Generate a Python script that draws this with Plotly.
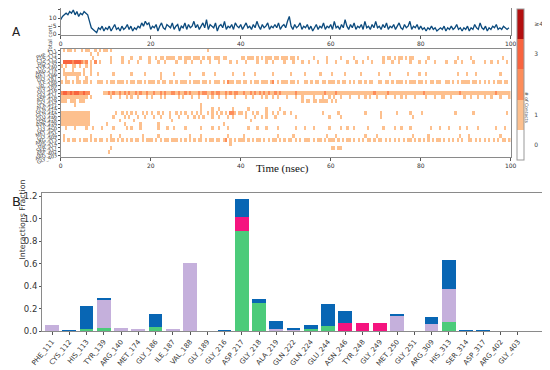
import plotly.graph_objects as go

# page body has an 8px margin; the figure is sized so reference pixel p lands at p
OFF = 8
W, H = 550 - OFF, 370 - OFF


def fx(p):
    return min(1.0, max(0.0, (p - OFF) / W))


def fy(p):
    return min(1.0, max(0.0, 1 - (p - OFF) / H))


# ---------------- data ----------------
residues = ["PHE_111", "CYS_112", "HIS_113", "TYR_139", "ARG_140", "MET_174", "GLY_186",
            "ILE_187", "VAL_188", "GLY_189", "GLY_216", "ASP_217", "GLY_218", "ALA_219",
            "GLN_222", "GLN_224", "GLU_244", "ASN_246", "TYR_248", "GLY_249", "MET_250",
            "GLY_251", "ARG_309", "HIS_313", "SER_314", "ASP_317", "ARG_402", "GLY_403"]

hbonds      = [0, 0, 0.02, 0.025, 0, 0, 0.035, 0, 0, 0, 0, 0.895, 0.247, 0,
               0, 0.015, 0.045, 0, 0, 0, 0, 0, 0, 0.078, 0, 0, 0, 0]
hydrophobic = [0.05, 0, 0, 0.25, 0.025, 0.015, 0, 0.015, 0.605, 0, 0, 0, 0, 0.02,
               0.005, 0, 0, 0, 0, 0, 0.145, 0, 0.065, 0.295, 0, 0, 0, 0]
ionic       = [0, 0, 0, 0, 0, 0, 0, 0, 0, 0, 0, 0.125, 0, 0,
               0, 0, 0, 0.068, 0.068, 0.068, 0, 0, 0, 0, 0, 0, 0, 0]
water_br    = [0, 0.005, 0.20, 0.02, 0, 0, 0.115, 0, 0, 0, 0.003, 0.153, 0.036, 0.065,
               0.02, 0.04, 0.20, 0.108, 0, 0, 0.006, 0, 0.057, 0.259, 0.005, 0.013, 0, 0]

time_step = 0.4
total_contacts = [
    9, 11, 12, 13, 12, 14, 13, 15, 12, 14, 11, 13, 12, 14, 13,
    12, 8, 4, 3, 2, 1, 4, 3, 5, 2,
    4, 3, 5, 2, 4, 6, 3, 4, 2, 5, 3, 4, 6, 3, 5, 2, 4, 3, 5, 4, 7, 5, 8, 6, 7,
    3, 5, 4, 6, 2, 5, 7, 4, 3, 6, 5, 4, 7, 3, 5, 6, 2, 5, 4, 7, 3, 6, 4, 5, 8,
    4, 6, 3, 5, 7, 4, 9, 3, 6, 5, 4, 7, 2, 5, 6, 4, 8, 3, 5, 4, 6, 3, 7, 5, 4,
    6, 3, 5, 7, 4, 5, 3, 6, 4, 8, 5, 3, 6, 4, 5, 7, 3, 5, 4, 6, 4, 7, 3, 5, 6,
    4, 8, 11, 5, 3, 6, 4, 5, 7, 3, 5, 4, 6, 3, 5, 2, 4, 6, 3, 5, 4, 7, 3, 5, 4,
    6, 3, 8, 4, 5, 3, 6, 4, 9, 5, 3, 6, 4, 7, 3, 5, 4, 6, 3, 8, 4, 5, 3, 6, 4,
    8, 4, 5, 3, 6, 4, 7, 3, 5, 4, 6, 3, 5, 7, 4, 3, 6, 4, 5, 8, 3, 5, 4, 6, 3,
    5, 3, 4, 2, 4, 3, 5, 3, 4, 2, 3, 4, 3, 5, 2, 4, 3, 5, 3, 4, 6, 3, 4, 2, 4,
    3, 5, 2, 4, 3, 6, 4, 3, 7, 4, 3, 5, 2, 4, 3, 5, 4, 6, 3, 4, 3, 5, 4, 3, 4,
]

# contact timeline: 0.5 ns bins, groups of 10 bins (5 ns); '.' = 0 contacts
bin_ns = 0.5
n_bins = 200
contact_rows = [
    ".1.11.1..1 .11..1.1.1 1.1....... .......... .......... .......... .....1....",  # PHE_111
    ".......... ...1..1...",  # CYS_112
    ".......... ....1..... ..1....1.. .1...1...1 ..1.11.111 1.11.111.1 11.1.11.11 1.11...... "
    "11.111.1.1 .111.11.11 1.11.1.... ..1.....1. ....1..... 1.....1... ...1.11.1. 11.1.11... "
    "...1...... ......1... ..1....... ......1...",  # HIS_113
    ".333323332 12.1.2.1.. ..1....1.. 1...1....1 ...1..1... .1...1..1. ..1...1... 1....1..1. "
    "..1....1.. .1..1....1 ...1...1.. 1...1...1. ..1....1.. .1..1...1. ...1...1.. 1....1...1 "
    "..1...1... .1...1..1. ...1....1. .1..1...1.",  # TYR_139
    "1.1..11.1. .1.1......",  # ARG_140
    ".1...1.... 1..1......",  # MET_174
    ".11111111. 1..1..1... ...1...... .1.....1.. ....1..... 1......1.. ...1....1. ......1... "
    ".1....1... ....1..... ..1.....1. .....1.... 1.....1... ...1...... .1....1... ....1....1 "
    "..1....... ......1... 1...1..... .....1....",  # GLY_186
    "..1....1.. .1........ .......... .......... ....1.....",  # ILE_187
    "1.11.1.11. 11.1..111. 1.11.111.1 .11.11.1.1 11.1.11.11 .1.111.1.1 11.11.1.11 1.1.211.11 "
    ".11.1.11.1 11.12.1.11 1.11.1..11 .1.11.11.1 11.1.11.1. 1.11.1.11. .11.11.1.1 11.1.111.1 "
    "1.1.11.11. .11.1.1.11 11.11.1.1. 1.1.11.11.",  # VAL_188
    "",  # GLY_189
    "",  # GLY_216
    "2332323322 322......1 1212112121 2112121121 1211212112 2121121211 1212211212 2112121221 "
    "1211212121 2121121211 1111211111 1111111211 1121111111 1111111112 1111121111 1111111111 "
    "1211111111 1111111211 1111111111 1112111111",  # ASP_217
    "1111111111 11.1...... ..1...1..1 .1..1...1. 1...1.1... ..1.1...1. .1...1.1.. 1..1...1.. "
    "..1..1...1 .1..1.1... 1...1..1.. ..1...1..1 .1..1...1. ..1..1.1.. 1...1...1. .1.1...1.. "
    "..1...1..1 1..1.....1 ..1..1..1. .1...1...1",  # GLY_218
    "111.111.11 1......... .......... .......... .......... .......... .......... .......... "
    ".......... .......... .......1.1 1.11.1111. 1.1.......",  # ALA_219
    "......1... .......... .......... .......... .......... .......... ..1.......",  # GLN_222
    ".......... .......... .......... .......... .......... .......... ..1....1.. 1.....1... "
    "...1...... .1.....1..",  # GLN_224
    "1111111111 111....... ....1..1.1 .1.1..1.1. 1..1.1..1. .1.1.1..1. 1.1..1.1.1 .1.1.221.1 "
    "1.1..1.1.. .1..1.1..1 ..1....... ......1... ...1...... .....1.... ..1......1 .....1.... "
    "1......... .....1.... ...1...... ........1.",  # GLU_244
    "1111111111 111....... ...1....1. 1...1..1.. .1..1...1. ..1...1..1 .1.1...1.. 1...1.1... "
    "..1...1..1 .1...1.... ....1..... .........1 ....1..... .......... ..1....... ......1...",  # ASN_246
    "1111111111 111....... ......1... ..1....... .........1 .......... .......... .......... "
    "....1.....",  # TYR_248
    "1111111111 111....... 1.......1. .....1.... ...1...... .......... .......... ..1.......",  # GLY_249
    "..1...1... .1..1...1. ...1.....1 .1...1.... ...1...1.. 1....1.... ..1....1.. 1...1..... "
    "...1...1.. .1....1... ....1...1. ..1......1 ....1..1.. 1.....1... ...1....1. .1...1.... "
    "....1...1. ..1....1.. 1....1.... ...1...1..",  # MET_250
    "",  # GLY_251
    ".1........ ...1...... ..1...1... ......1... ...1...... .......1.. ..1....... ....1..... "
    ".1........ ......1... ...1...... ........1. ..1....... .....1.... 1......... ......1... "
    "...1...... .......1.. .1........ .....1....",  # ARG_309
    ".1.1.11.1. 11.1.1.11. 1.11.1.1.1 .1.11.1.11 1.1.1.11.1 11.1.1.1.1 .11.1.11.1 1.12.1.1.1 "
    "11.1.1.11. 1.1.11.1.1 .11.1.1.11 1.1.11.1.1 11.1.1.11. 1.1.1.11.1 .11.1.1.1. 1.1.11.1.1 "
    ".1.1.1.11. 1.1.1.1.1. .11.1.1.1. 1.1.1.11.1",  # HIS_313
    ".......... .......... .......... .......... .......... .......... .......... .....1....",  # SER_314
    ".......... .......... ..1....... .......... .......... .......... .......... .......... "
    ".......... .......... .......... .......... 11.11.....",  # ASP_317
    ".......... .......... .1........",  # ARG_402
    "",  # GLY_403
]

contact_levels = ["0", "1", "2", "3", "\u22654"]
contact_colors = ["#ffffff", "#fdc08e", "#fd8d5a", "#f8643f", "#b30f0f"]


def decode(s):
    s = s.replace(" ", "").ljust(n_bins, ".")[:n_bins]
    return [0 if c == "." else int(c) for c in s]


z = [decode(r) for r in contact_rows]
bin_centers = [bin_ns * (i + 0.5) for i in range(n_bins)]
times = [i * time_step for i in range(len(total_contacts))]

# discrete colorscale
cs = []
n = len(contact_colors)
for i, c in enumerate(contact_colors):
    cs.append([i / n, c])
    cs.append([(i + 1) / n, c])

fig = go.Figure()

fig.add_trace(go.Scatter(x=times, y=total_contacts, mode="lines",
                         line=dict(color="#0b4a7d", width=1.3),
                         xaxis="x", yaxis="y", showlegend=False))

fig.add_trace(go.Heatmap(z=z, x=bin_centers, y=residues, colorscale=cs,
                         zmin=-0.5, zmax=4.5, xaxis="x2", yaxis="y2",
                         colorbar=dict(x=fx(516.5), xanchor="left", y=fy(84.5), yanchor="middle",
                                       len=151 / H, lenmode="fraction", thickness=7,
                                       xpad=0, ypad=0,
                                       outlinecolor="#999", outlinewidth=1,
                                       tickvals=[0, 1, 2, 3, 4],
                                       ticktext=["0", "1", "", "3", "\u22654"],
                                       ticks="outside", ticklen=9, tickcolor="rgba(0,0,0,0)",
                                       tickfont=dict(size=6, color="#444", family="DejaVu Sans"))))

colors = {"H-bonds": "#4ccb7a", "Hydrophobic": "#c5b0dc", "Ionic": "#f5147f", "Water bridges": "#0866b4"}
for name, vals in [("H-bonds", hbonds), ("Hydrophobic", hydrophobic),
                   ("Ionic", ionic), ("Water bridges", water_br)]:
    fig.add_trace(go.Bar(x=residues, y=vals, name=name, marker=dict(color=colors[name], line=dict(width=0)),
                         width=0.8, xaxis="x3", yaxis="y3", showlegend=False))

ax_common = dict(showline=True, linecolor="#8a8a8a", linewidth=1, mirror=True, ticks="outside",
                 tickcolor="#555", showgrid=False, zeroline=False, automargin=False)

fig.update_layout(
    width=W, height=H, margin=dict(l=0, r=0, t=0, b=0, autoexpand=False),
    paper_bgcolor="white", plot_bgcolor="white", barmode="stack", bargap=0.2,
    font=dict(family="DejaVu Sans", color="#333"),
    xaxis=dict(domain=[fx(60.7), fx(510.7)], range=[0, 100], anchor="y",
               tickvals=[0, 20, 40, 60, 80, 100], ticklen=3, tickfont=dict(size=6), **ax_common),
    yaxis=dict(domain=[fy(35), fy(8)], range=[-0.45, 16.2], anchor="x",
               tickvals=[0, 5, 10, 15], ticklen=2, tickfont=dict(size=6), **ax_common),
    xaxis2=dict(domain=[fx(60.7), fx(510.7)], range=[0, 100], anchor="y2",
                tickvals=[0, 20, 40, 60, 80, 100], ticklen=3, tickfont=dict(size=6), **ax_common),
    yaxis2=dict(domain=[fy(157), fy(48.5)], anchor="x2", autorange="reversed",
                categoryorder="array", categoryarray=residues, tickmode="array", tickvals=residues,
                ticklen=2, tickangle=-20, tickfont=dict(size=5, color="#333"), **ax_common),
    xaxis3=dict(domain=[fx(42), fx(542)], range=[-0.58, 28.4], anchor="y3",
                categoryorder="array", categoryarray=residues, tickangle=-50, ticklen=3,
                tickfont=dict(size=7, color="#333"), **ax_common),
    yaxis3=dict(domain=[fy(331), fy(192.7)], range=[0, 1.233], anchor="x3",
                tickvals=[0, 0.2, 0.4, 0.6, 0.8, 1.0, 1.2], tickformat=".1f", ticklen=2,
                tickfont=dict(size=8.5, color="#333"), **ax_common),
    annotations=[
        dict(text="A", x=fx(10), y=fy(23), xref="paper", yref="paper", showarrow=False,
             font=dict(size=12, color="#222")),
        dict(text="B", x=fx(10), y=fy(201), xref="paper", yref="paper", showarrow=False,
             font=dict(size=13, color="#222")),
        dict(text="Total cont.", x=fx(45), y=fy(21), xref="paper", yref="paper", showarrow=False,
             textangle=-90, font=dict(size=5.5, color="#444")),
        dict(text="Time (nsec)", x=fx(282), y=fy(168), xref="paper", yref="paper", showarrow=False,
             font=dict(size=11, color="#111", family="Liberation Serif")),
        dict(text="# of Contacts", x=fx(531), y=fy(90), xref="paper", yref="paper", showarrow=False,
             textangle=90, font=dict(size=4.5, color="#444")),
        dict(text="Interactions Fraction", x=fx(15), y=fy(262), xref="paper", yref="paper",
             showarrow=False, textangle=-90, font=dict(size=7.8, color="#333")),
    ],
)

fig.write_html("out.html")
